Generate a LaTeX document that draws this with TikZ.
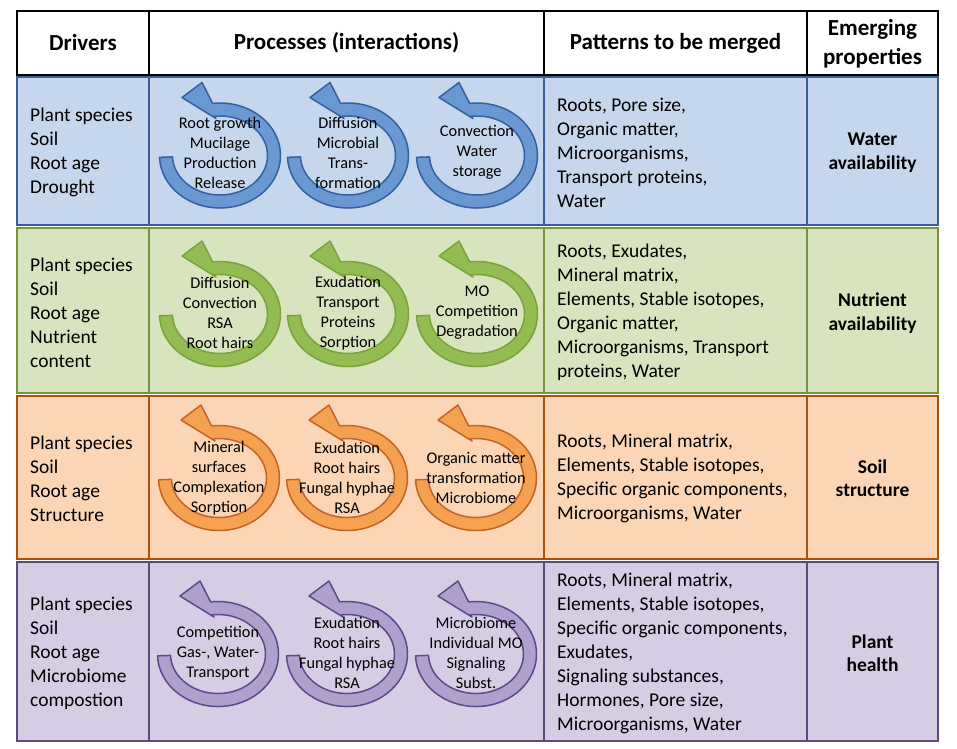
\documentclass[tikz,border=0pt]{standalone}
\usepackage{fontspec}
\setmainfont{Carlito}
\definecolor{bfill}{HTML}{C6D6EC}
\definecolor{bline}{HTML}{3A5F91}
\definecolor{barrow}{HTML}{6A98D2}
\definecolor{barrowline}{HTML}{33629E}
\definecolor{gfill}{HTML}{D7E4BD}
\definecolor{gline}{HTML}{77933C}
\definecolor{garrow}{HTML}{93BD52}
\definecolor{garrowline}{HTML}{7AA33E}
\definecolor{ofill}{HTML}{FCD5B5}
\definecolor{oline}{HTML}{A8530C}
\definecolor{oarrow}{HTML}{F6A14F}
\definecolor{oarrowline}{HTML}{C0652A}
\definecolor{pfill}{HTML}{D5CDE3}
\definecolor{pline}{HTML}{5F497A}
\definecolor{parrow}{HTML}{AFA0CE}
\definecolor{parrowline}{HTML}{5E4A88}
\newcommand{\cyclearrow}[4]{%
  \begin{scope}[shift={(#1,#2)}, yscale=-1]
    \filldraw[fill=#3, draw=#4, line width=1.5pt, line join=round]
      (182:60.5 and 52.5) arc[start angle=182, end angle=457, x radius=60.5, y radius=52.5]
      -- (-18,73) -- (-38,58) -- (-4,37)
      -- (457:47.5 and 39.5) arc[start angle=457, end angle=182, x radius=47.5, y radius=39.5]
      -- cycle;
  \end{scope}}
\tikzset{
  body/.style={inner sep=0pt, align=left, anchor=west, font=\fontsize{19.5}{24}\selectfont},
  emerg/.style={inner sep=0pt, align=center, font=\fontsize{19.5}{23.5}\selectfont\bfseries},
  proc/.style={inner sep=0pt, align=center, font=\fontsize{16.3}{20}\selectfont},
  head/.style={inner sep=0pt, align=center, font=\fontsize{23}{29}\selectfont\bfseries},
}
\begin{document}
\begin{tikzpicture}[x=1pt, y=-1pt]
\useasboundingbox[fill=white] (0,0) rectangle (957,748);
% header
\draw[line width=2pt, fill=white] (17,11) rectangle (938,75);
\draw[line width=2pt] (149,11) -- (149,75) (544,11) -- (544,75) (807,11) -- (807,75);
\node[head] (h1) at (83,43) {Drivers};
\node[head] (h2) at (346.5,43) {Processes (interactions)};
\node[head] (h3) at (675.5,43) {Patterns to be merged};
\node[head] (h4) at (872.5,44) {Emerging\\properties};
% ---------------- blue row
\draw[line width=2.5pt, fill=bfill, draw=bline] (17,77) rectangle (938,225);
\draw[line width=2.5pt, draw=bline] (149,77) -- (149,225) (544,77) -- (544,225) (807,77) -- (807,225);
\node[body] (b1) at (30,152.5) {Plant species\\Soil\\Root age\\Drought};
\cyclearrow{220}{155.5}{barrow}{barrowline}
\cyclearrow{348}{155.5}{barrow}{barrowline}
\cyclearrow{477}{155.5}{barrow}{barrowline}
\node[proc] (b2) at (220,152.5) {Root growth\\Mucilage\\Production\\Release};
\node[proc] (b3) at (348,152.5) {Diffusion\\Microbial\\Trans-\\formation};
\node[proc] (b4) at (477,152.5) {Convection\\Water\\storage};
\node[body] (b5) at (557,152.5) {Roots, Pore size,\\Organic matter,\\Microorganisms,\\Transport proteins,\\Water};
\node[emerg] (b6) at (872.5,152.5) {Water\\availability};
% ---------------- green row
\draw[line width=2.5pt, fill=gfill, draw=gline] (17,228) rectangle (938,393);
\draw[line width=2.5pt, draw=gline] (149,228) -- (149,393) (544,228) -- (544,393) (807,228) -- (807,393);
\node[body] (g1) at (30,312.5) {Plant species\\Soil\\Root age\\Nutrient\\content};
\cyclearrow{220}{314}{garrow}{garrowline}
\cyclearrow{348}{314}{garrow}{garrowline}
\cyclearrow{477}{314}{garrow}{garrowline}
\node[proc] (g2) at (220,313) {Diffusion\\Convection\\RSA\\Root hairs};
\node[proc] (g3) at (348,313) {Exudation\\Transport\\Proteins\\Sorption};
\node[proc] (g4) at (477,313) {MO\\Competition\\Degradation};
\node[body] (g5) at (557,312.5) {Roots, Exudates,\\Mineral matrix,\\Elements, Stable isotopes,\\Organic matter,\\Microorganisms, Transport\\proteins, Water};
\node[emerg] (g6) at (872.5,313) {Nutrient\\availability};
% ---------------- orange row
\draw[line width=2.5pt, fill=ofill, draw=oline] (17,396) rectangle (938,559);
\draw[line width=2.5pt, draw=oline] (149,396) -- (149,559) (544,396) -- (544,559) (807,396) -- (807,559);
\node[body] (o1) at (30,478.5) {Plant species\\Soil\\Root age\\Structure};
\cyclearrow{219}{478}{oarrow}{oarrowline}
\cyclearrow{347}{478}{oarrow}{oarrowline}
\cyclearrow{476}{478}{oarrow}{oarrowline}
\node[proc] (o2) at (219,478) {Mineral\\surfaces\\Complexation\\Sorption};
\node[proc] (o3) at (347,478) {Exudation\\Root hairs\\Fungal hyphae\\RSA};
\node[proc] (o4) at (476,478) {Organic matter\\transformation\\Microbiome};
\node[body] (o5) at (557,478.5) {Roots, Mineral matrix,\\Elements, Stable isotopes,\\Specific organic components,\\Microorganisms, Water};
\node[emerg] (o6) at (872.5,478) {Soil\\structure};
% ---------------- purple row
\draw[line width=2.5pt, fill=pfill, draw=pline] (17,562) rectangle (938,741);
\draw[line width=2.5pt, draw=pline] (149,562) -- (149,741) (544,562) -- (544,741) (807,562) -- (807,741);
\node[body] (p1) at (30,653.5) {Plant species\\Soil\\Root age\\Microbiome\\compostion};
\cyclearrow{218}{654}{parrow}{parrowline}
\cyclearrow{347}{654}{parrow}{parrowline}
\cyclearrow{476}{654}{parrow}{parrowline}
\node[proc] (p2) at (218,653) {Competition\\Gas-, Water-\\Transport};
\node[proc] (p3) at (347,653) {Exudation\\Root hairs\\Fungal hyphae\\RSA};
\node[proc] (p4) at (476,653) {Microbiome\\Individual MO\\Signaling\\Subst.};
\node[body] (p5) at (557,653.5) {Roots, Mineral matrix,\\Elements, Stable isotopes,\\Specific organic components,\\Exudates,\\Signaling substances,\\Hormones, Pore size,\\Microorganisms, Water};
\node[emerg] (p6) at (872.5,653) {Plant\\health};
\end{tikzpicture}
\end{document}
